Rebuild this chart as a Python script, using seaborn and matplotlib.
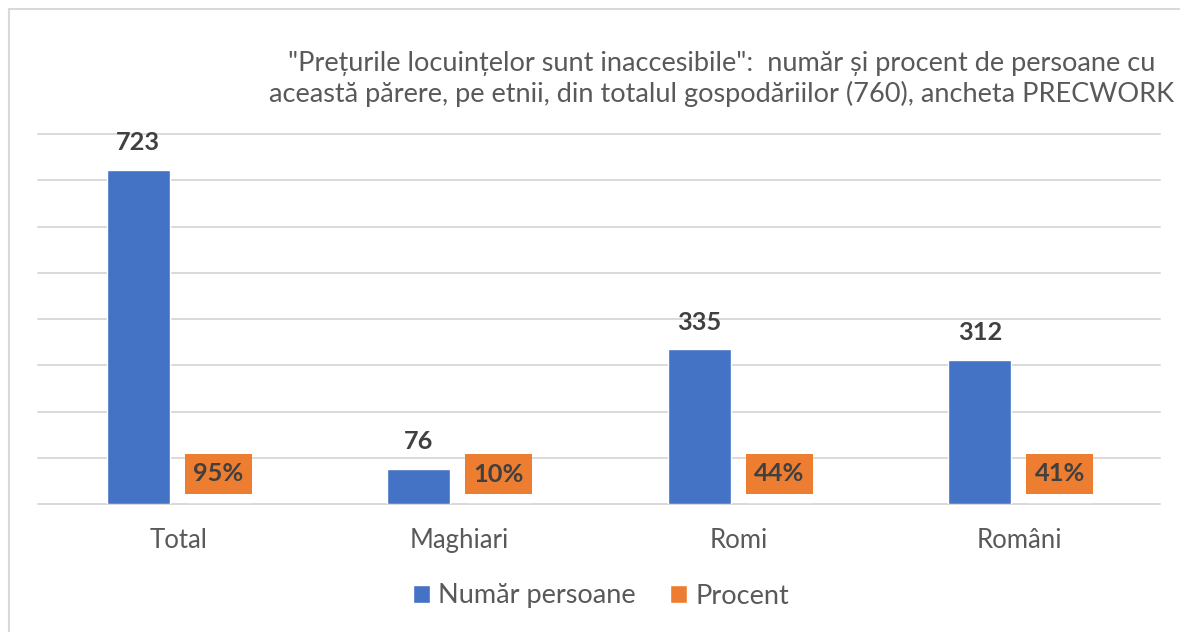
"""Bar chart: housing prices seen as inaccessible, by ethnicity (PRECWORK)."""

import matplotlib

matplotlib.use("Agg")

import matplotlib.pyplot as plt
import pandas as pd
import seaborn as sns
from matplotlib.patches import Rectangle

CATEGORIES = ["Total", "Maghiari", "Romi", "Români"]
COUNTS = [723, 76, 335, 312]
PERCENTS = [95, 10, 44, 41]
SERIES = ["Număr persoane", "Procent"]
Y_TICKS = [0, 100, 200, 300, 400, 500, 600, 700, 800]

TITLE = (
    '"Prețurile locuințelor sunt inaccesibile":  număr și procent de persoane cu\n'
    "această părere, pe etnii, din totalul gospodăriilor (760), ancheta PRECWORK"
)

BLUE = "#4472C4"
ORANGE = "#ED7D31"
GRID = "#D9D9D9"
DARK = "#404040"
GRAY = "#595959"
FONT = ["Lato", "DejaVu Sans"]


def build_frame() -> pd.DataFrame:
    rows = []
    for cat, n, p in zip(CATEGORIES, COUNTS, PERCENTS):
        rows.append({"cat": cat, "series": SERIES[0], "value": n})
        # percent series shares the count axis, so its bar is ~invisible
        rows.append({"cat": cat, "series": SERIES[1], "value": p / 100})
    return pd.DataFrame(rows)


def main() -> None:
    sns.set_theme(style="white")
    plt.rcParams["font.family"] = FONT

    df = build_frame()
    fig = plt.figure(figsize=(11.8, 6.32), dpi=100)
    ax = fig.add_axes([38 / 1180, 128 / 632, 1122 / 1180, 370 / 632])

    sns.barplot(
        data=df,
        x="cat",
        y="value",
        hue="series",
        order=CATEGORIES,
        hue_order=SERIES,
        palette=[BLUE, ORANGE],
        width=0.57,
        gap=0.21,
        saturation=1,
        ax=ax,
        zorder=3,
    )

    ax.set_xlim(-0.5, len(CATEGORIES) - 0.5)
    ax.set_ylim(0, Y_TICKS[-1])
    ax.set_yticks([])
    for y in Y_TICKS:
        ax.axhline(y, color=GRID, linewidth=1.4, zorder=1, clip_on=False)
    sns.despine(ax=ax, left=True, bottom=True)
    ax.set_xlabel("")
    ax.set_ylabel("")
    ax.tick_params(axis="x", length=0, pad=17, labelsize=18.5, labelcolor=GRAY)

    # data labels
    blue_bars, orange_bars = ax.containers[0], ax.containers[1]
    for bar, n in zip(blue_bars, COUNTS):
        ax.annotate(
            f"{n}",
            (bar.get_x() + bar.get_width() / 2, bar.get_height()),
            xytext=(0, 14),
            textcoords="offset points",
            ha="center",
            va="baseline",
            fontsize=18.3,
            fontweight="bold",
            color=DARK,
        )
    for bar, p in zip(orange_bars, PERCENTS):
        ax.annotate(
            f"{p}%",
            (bar.get_x() + bar.get_width() / 2, bar.get_height()),
            xytext=(0, 21.5),
            textcoords="offset points",
            ha="center",
            va="center",
            fontsize=18.3,
            fontweight="bold",
            color=DARK,
            bbox=dict(boxstyle="square,pad=0.33", fc=ORANGE, ec="none"),
        )

    sns.move_legend(
        ax,
        "center",
        bbox_to_anchor=(601 / 1180, 36 / 632),
        bbox_transform=fig.transFigure,
        ncol=2,
        frameon=False,
        title=None,
        fontsize=19.5,
        handlelength=0.65,
        handleheight=0.65,
        handletextpad=0.3,
        columnspacing=1.25,
        labelcolor=GRAY,
    )

    # title sits a touch left of the reference so its last letter is not clipped
    fig.text(
        722 / 1180,
        1 - 79 / 632,
        TITLE,
        ha="center",
        va="center",
        multialignment="center",
        fontsize=19.5,
        color=GRAY,
        linespacing=1.25,
    )

    fig.add_artist(
        Rectangle(
            (9 / 1180, -0.1),
            1.2,
            1.1 - 9 / 632,
            transform=fig.transFigure,
            fill=False,
            edgecolor=GRID,
            linewidth=1.5,
        )
    )

    fig.savefig("out.png", dpi=100)
    plt.close(fig)


if __name__ == "__main__":
    main()
